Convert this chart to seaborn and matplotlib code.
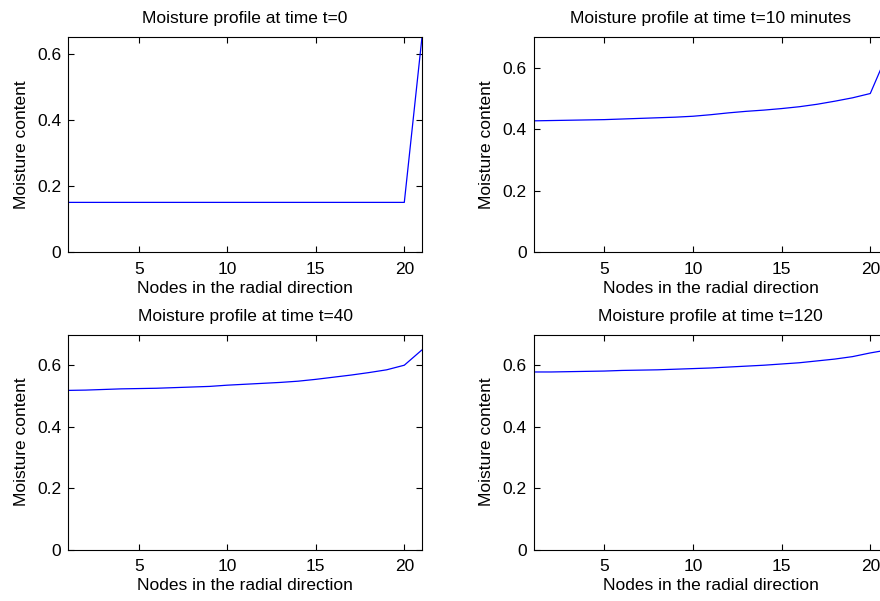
import pandas as pd
import matplotlib
matplotlib.use("Agg")
import matplotlib.pyplot as plt
import seaborn as sns

# radial nodes 1..21, outer node is the boundary
nodes = list(range(1, 22))

moist_t0 = [0.15] * 20 + [0.65]
moist_t10 = [0.427, 0.428, 0.429, 0.430, 0.431, 0.433, 0.435, 0.437, 0.439, 0.442,
             0.447, 0.453, 0.458, 0.462, 0.467, 0.473, 0.481, 0.491, 0.502, 0.516, 0.65]
moist_t40 = [0.518, 0.519, 0.521, 0.523, 0.524, 0.525, 0.527, 0.529, 0.531, 0.535,
             0.538, 0.541, 0.544, 0.548, 0.554, 0.561, 0.568, 0.576, 0.585, 0.600, 0.65]
moist_t120 = [0.578, 0.578, 0.579, 0.580, 0.581, 0.583, 0.584, 0.585, 0.587, 0.589,
              0.591, 0.594, 0.597, 0.600, 0.604, 0.608, 0.614, 0.620, 0.628, 0.640, 0.65]

titles = ["Moisture profile at time t=0", "Moisture profile at time t=10 minutes",
          "Moisture profile at time t=40", "Moisture profile at time t=120"]
profiles = [moist_t0, moist_t10, moist_t40, moist_t120]
y_tops = [0.65, 0.7, 0.7, 0.7]

x_ticks = [5, 10, 15, 20]
y_ticks = [0, 0.2, 0.4, 0.6]
y_labels = ["0", "0.2", "0.4", "0.6"]

sns.set_style("white")
plt.rcParams['font.family'] = ['Liberation Sans', 'DejaVu Sans']
plt.rcParams['text.color'] = 'black'
plt.rcParams['axes.labelcolor'] = 'black'
fs = 12.5

W, H = 880, 601
fig = plt.figure(figsize=(W / 100, H / 100), dpi=100)

# axes boxes in pixels: left, top, right, bottom (right column runs past the edge)
boxes = [(68, 37, 422, 252), (533.5, 37, 888, 252),
         (68, 334.5, 422, 549.5), (533.5, 334.5, 888, 549.5)]

for box, title, vals, ytop in zip(boxes, titles, profiles, y_tops):
    l, t, r, b = box
    ax = fig.add_axes([l / W, 1 - b / H, (r - l) / W, (b - t) / H])
    df = pd.DataFrame({"node": nodes, "moisture": vals})
    sns.lineplot(data=df, x="node", y="moisture", ax=ax, color="#0000ff", linewidth=0.9)
    ax.set_xlim(1, 21)
    ax.set_ylim(0, ytop)
    ax.set_xticks(x_ticks)
    ax.set_yticks(y_ticks)
    ax.set_yticklabels(y_labels)
    ax.tick_params(direction="in", length=4, width=0.8, top=True, right=True,
                   bottom=True, left=True, labelsize=fs, colors="black")
    ax.tick_params(axis="x", pad=7)
    ax.tick_params(axis="y", pad=5)
    for s in ax.spines.values():
        s.set_color("black")
        s.set_linewidth(0.8)
    ax.set_title(title, fontsize=fs, pad=10, color="black")
    ax.set_xlabel("Nodes in the radial direction", fontsize=fs, labelpad=3, color="black")
    ax.set_ylabel("Moisture content", fontsize=fs, labelpad=6, color="black")

fig.savefig("out.png", dpi=100, facecolor="white")
